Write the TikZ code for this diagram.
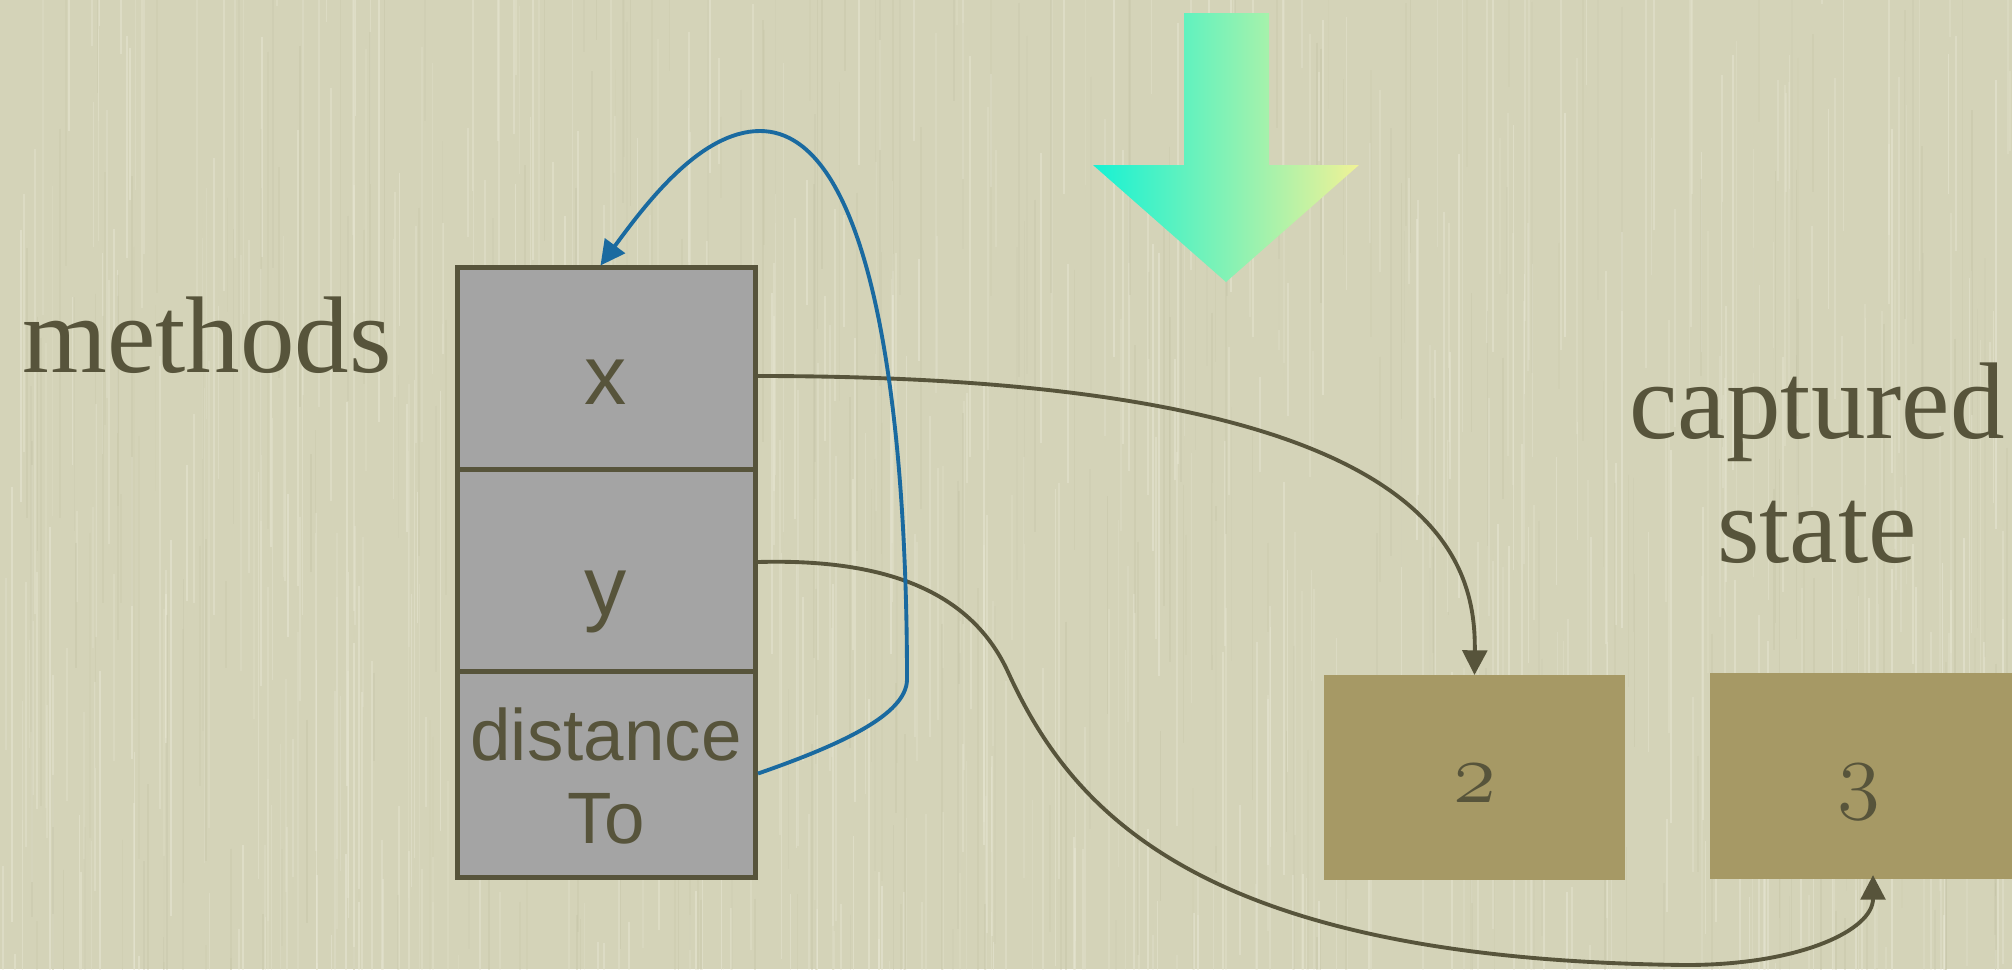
\documentclass[tikz,border=0pt]{standalone}
\usepackage{fontspec}
\setmainfont{Liberation Serif}
\newfontfamily\sansf{Liberation Sans}
\usetikzlibrary{arrows.meta,calc}
\definecolor{bgc}{RGB}{212,211,184}
\definecolor{lightstreak}{RGB}{232,231,212}
\definecolor{darkstreak}{RGB}{194,193,163}
\definecolor{ink}{RGB}{87,84,59}
\definecolor{cellgray}{RGB}{164,164,164}
\definecolor{valbox}{RGB}{166,153,101}
\definecolor{bluel}{RGB}{26,106,160}
\definecolor{arrL}{RGB}{22,242,212}
\definecolor{arrM}{RGB}{140,238,185}
\definecolor{arrR}{RGB}{240,242,150}
\newcommand\osfdigit[1]{{\fontencoding{OML}\fontfamily{cmm}\fontseries{m}\fontshape{it}\fontsize{24.88}{30}\selectfont #1}}
\begin{document}
\begin{tikzpicture}[x=0.01cm,y=-0.01cm,
  cell/.style={draw=ink, fill=cellgray, line width=1.4pt, minimum width=2.98cm, inner sep=0pt},
  valuebox/.style={fill=valbox, inner sep=0pt, outer sep=0pt},
  sanslbl/.style={text=ink, font=\sansf\fontsize{20.7}{24}\selectfont, inner sep=0pt, anchor=base},
  biglbl/.style={sanslbl, font=\sansf\fontsize{24}{28}\selectfont},
  seriflbl/.style={text=ink, font=\fontsize{31}{37}\selectfont, inner sep=0pt, anchor=base},
  digitlbl/.style={text=ink, inner sep=0pt, anchor=base},
  link/.style={draw=ink, line width=1.1pt, -{Triangle[length=7pt,width=7pt]}},
  selflink/.style={draw=bluel, line width=1.1pt, -{Triangle[length=7pt,width=7pt]}},
  streak/.style={line width=0.5pt},
]
\useasboundingbox (0,0) rectangle (2012,969);
\fill[bgc] (0,0) rectangle (2012,969);
\begin{scope}
\clip (0,0) rectangle (2012,969);
\pgfmathsetseed{4242}
\foreach \i in {1,...,600}{
  \pgfmathsetmacro{\xx}{rnd*2012}
  \pgfmathsetmacro{\yy}{rnd*1100-120}
  \pgfmathsetmacro{\ll}{80+rnd*400}
  \pgfmathsetmacro{\op}{0.2+0.35*rnd}
  \draw[streak, lightstreak, opacity=\op] (\xx,\yy) -- ++(0,\ll);
}
\foreach \i in {1,...,300}{
  \pgfmathsetmacro{\xx}{rnd*2012}
  \pgfmathsetmacro{\yy}{rnd*1100-120}
  \pgfmathsetmacro{\ll}{80+rnd*400}
  \pgfmathsetmacro{\op}{0.1+0.25*rnd}
  \draw[streak, darkstreak, opacity=\op] (\xx,\yy) -- ++(0,\ll);
}
\end{scope}

% gradient arrow
\shade[left color=arrL, middle color=arrM, right color=arrR]
  (1184,13) -- (1269,13) -- (1269,165) -- (1359,165) -- (1226,282) -- (1093,165) -- (1184,165) -- cycle;

% method table
\node[cell, minimum height=2.02cm] (cell1) at (606.5,369) {};
\node[cell, minimum height=2.02cm] (cell2) at (606.5,571) {};
\node[cell, minimum height=2.05cm] (cell3) at (606.5,774.5) {};
\node[biglbl] (lx) at (606,404) {x};
\node[biglbl] (ly) at (606,615) {y};
\node[sanslbl] (ld1) at (606,760) {distance};
\node[sanslbl] (ld2) at (606,843) {To};

% captured values
\node[valuebox, minimum width=3.01cm, minimum height=2.05cm] (box2) at (1474.5,777.5) {};
\node[valuebox, minimum width=3.02cm, minimum height=2.06cm] (box3) at (1861,776) {};
\node[digitlbl] (two) at (1475,802) {\osfdigit{2}};
\node[digitlbl] (three) at (1859,802) {\osfdigit{3}};

% labels
\node[seriflbl] (methods) at (207,372) {methods};
\node[seriflbl] (captured) at (1817,438) {captured};
\node[seriflbl] (state) at (1817,562) {state};

% connectors
\draw[link] ($(cell1.east)+(0,7)$) .. controls (1433,376) and (1476,555) .. (box2.north);
\draw[link] ($(cell2.east)+(0,-9)$) .. controls (900,558) and (975,600) .. (1008,672)
  .. controls (1072,812) and (1200,960) .. (1686,965)
  .. controls (1800,965) and (1873,930) .. ($(box3.south)+(12,-4)$);
\draw[selflink] ($(cell3.east)+(0,-1)$) .. controls (840,745) and (906,715) .. (907,680)
  .. controls (907,400) and (870,131) .. (760,131)
  .. controls (700,131) and (645,205) .. ($(cell1.north)+(-6,0)$);
\end{tikzpicture}
\end{document}
